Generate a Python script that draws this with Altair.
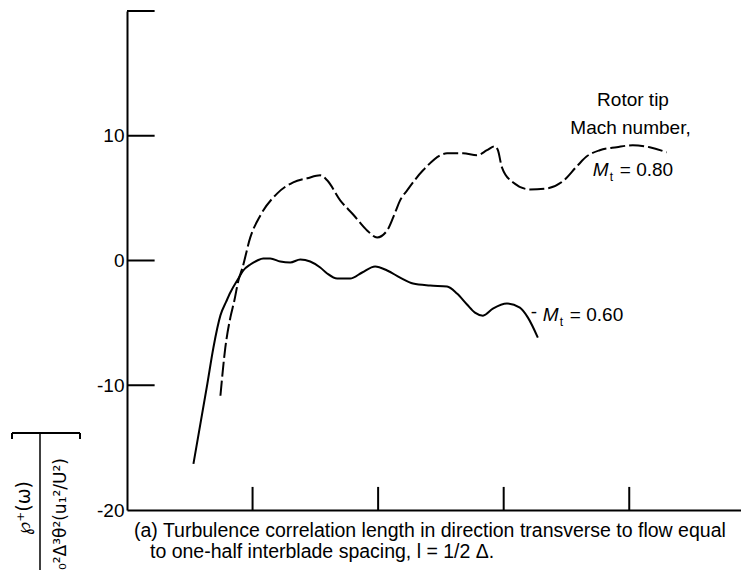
import altair as alt
import pandas as pd

# ---- data ----
# Rotor tip Mach number M_t = 0.60 (solid curve)
x_060 = [0.529, 0.640, 0.688, 0.744, 0.790, 0.823, 0.887, 0.926, 0.982, 1.038, 1.085,
         1.141, 1.221, 1.300, 1.380, 1.459, 1.539, 1.594, 1.674, 1.777, 1.873,
         1.976, 2.072, 2.175, 2.278, 2.414, 2.549, 2.628, 2.708, 2.771, 2.835,
         2.914, 3.026, 3.129, 3.193, 3.272]
y_060 = [-16.3, -9.88, -6.99, -4.40, -3.30, -2.57, -1.45, -0.80, -0.32, 0.0, 0.16,
         0.16, -0.08, -0.16, 0.08, -0.08, -0.56, -1.04, -1.45, -1.45, -0.96,
         -0.48, -0.80, -1.37, -1.85, -2.01, -2.09, -2.65, -3.53, -4.18, -4.42,
         -3.86, -3.45, -3.78, -4.58, -6.18]

# Rotor tip Mach number M_t = 0.80 (dashed curve)
x_080 = [0.744, 0.783, 0.823, 0.855, 0.887, 0.918, 0.982, 1.062, 1.197, 1.324,
         1.435, 1.539, 1.594, 1.698, 1.801, 1.912, 1.992, 2.072, 2.136, 2.175,
         2.231, 2.358, 2.549, 2.676, 2.787, 2.867, 2.930, 2.954, 2.986, 3.073,
         3.209, 3.344, 3.471, 3.583, 3.662, 3.765, 3.900, 4.028, 4.163, 4.298]
y_080 = [-10.84, -6.99, -4.58, -3.21, -1.61, -0.64, 1.85, 3.61, 5.38, 6.27,
         6.59, 6.83, 6.43, 4.82, 3.69, 2.41, 1.85, 2.41, 3.86, 4.82,
         5.62, 7.23, 8.59, 8.59, 8.43, 8.84, 9.16, 8.84, 7.47, 6.27,
         5.70, 5.78, 6.35, 7.55, 8.35, 8.84, 9.08, 9.24, 9.08, 8.67]

y_tick_values = [-20, -10, 0, 10]
y_inner_ticks = [-10, 0, 10, 20]
x_inner_ticks = [1, 2, 3, 4]

X_DOMAIN = [0, 4.89]
Y_DOMAIN = [-20, 20]

FONT = "Liberation Sans Narrow, Liberation Sans, Arial, sans-serif"

xs = alt.Scale(domain=X_DOMAIN, nice=False, zero=False)
ys = alt.Scale(domain=Y_DOMAIN, nice=False, zero=False)

df060 = pd.DataFrame({"x": x_060, "y": y_060})
df080 = pd.DataFrame({"x": x_080, "y": y_080})

x_axis = alt.Axis(title=None, labels=False, ticks=False, grid=False,
                  domainColor="black", domainWidth=2)
y_axis = alt.Axis(title=None, values=y_tick_values, ticks=False, grid=False,
                  domainColor="black", domainWidth=2,
                  labelExpr="datum.value < 0 ? '-' + abs(datum.value) : '' + datum.value",
                  labelFont=FONT, labelFontSize=19, labelColor="black",
                  labelPadding=3)

solid = alt.Chart(df060).mark_line(color="black", strokeWidth=2,
                                   interpolate="monotone").encode(
    x=alt.X("x:Q", scale=xs, axis=x_axis),
    y=alt.Y("y:Q", scale=ys, axis=y_axis),
)

dashed = alt.Chart(df080).mark_line(color="black", strokeWidth=2,
                                    interpolate="monotone",
                                    strokeDash=[15, 4]).encode(
    x=alt.X("x:Q", scale=xs),
    y=alt.Y("y:Q", scale=ys),
)

# inward ticks
ytk = pd.DataFrame({"y": y_inner_ticks, "x": [0] * 4, "x2": [0.22] * 4})
ytick_layer = alt.Chart(ytk).mark_rule(color="black", strokeWidth=2).encode(
    x=alt.X("x:Q", scale=xs), x2="x2:Q", y=alt.Y("y:Q", scale=ys))

xtk = pd.DataFrame({"x": x_inner_ticks, "y": [-20] * 4, "y2": [-18.15] * 4})
xtick_layer = alt.Chart(xtk).mark_rule(color="black", strokeWidth=2).encode(
    x=alt.X("x:Q", scale=xs), y=alt.Y("y:Q", scale=ys), y2="y2:Q")

# annotations in data coordinates
ann_center = pd.DataFrame({"x": [4.03, 4.01], "y": [12.37, 10.12],
                           "t": ["Rotor tip", "Mach number,"]})
ann_c_layer = alt.Chart(ann_center).mark_text(
    font=FONT, fontSize=19, color="black", align="center", baseline="alphabetic"
).encode(x=alt.X("x:Q", scale=xs), y=alt.Y("y:Q", scale=ys), text="t:N")

def mt_label(x, y, value, lead=False):
    d = pd.DataFrame({"x": [x], "y": [y]})
    base = alt.Chart(d)
    enc = dict(x=alt.X("x:Q", scale=xs), y=alt.Y("y:Q", scale=ys))
    layers = [
        base.mark_text(font=FONT, fontSize=19, fontStyle="italic", color="black",
                       align="left", baseline="alphabetic", text="M").encode(**enc),
        base.mark_text(font=FONT, fontSize=12, color="black", align="left",
                       baseline="alphabetic", dx=17, dy=5, text="t").encode(**enc),
        base.mark_text(font=FONT, fontSize=19, color="black", align="left",
                       baseline="alphabetic", dx=27, text="= " + value).encode(**enc),
    ]
    if lead:
        layers.append(base.mark_text(font=FONT, fontSize=19, color="black",
                                     align="left", baseline="alphabetic",
                                     dx=-12, dy=-3, text="-").encode(**enc))
    return layers

lab080 = mt_label(3.71, 6.75, "0.80")
lab060 = mt_label(3.312, -4.82, "0.60", lead=True)

# y-axis title (rotated fraction) and caption, placed in pixels
num = alt.Chart(pd.DataFrame({"t": ["\u2118\u207a(\u03c9)"]})).mark_text(
    font="DejaVu Sans", fontSize=19, color="black", angle=270,
    align="center", baseline="middle").encode(
    x=alt.value(-103), y=alt.value(497), text="t:N")
den = alt.Chart(pd.DataFrame({"t": ["\u03c1\u2080c\u2080\u00b2\u0394\u00b3\u03b8\u00b2(u\u2081\u00b2/U\u00b2)"]})).mark_text(
    font="DejaVu Sans", fontSize=17, color="black", angle=270,
    align="left", baseline="middle").encode(
    x=alt.value(-66), y=alt.value(586), text="t:N")
frac = alt.Chart(pd.DataFrame({"a": [0]})).mark_rule(color="black", strokeWidth=1.5).encode(
    x=alt.value(-87), y=alt.value(422), y2=alt.value(570))
bracket = alt.Chart(pd.DataFrame({"a": [0]})).mark_rule(color="black", strokeWidth=2).encode(
    x=alt.value(-115), x2=alt.value(-47), y=alt.value(422))
bl = alt.Chart(pd.DataFrame({"a": [0]})).mark_rule(color="black", strokeWidth=2).encode(
    x=alt.value(-115), y=alt.value(422), y2=alt.value(428))
br = alt.Chart(pd.DataFrame({"a": [0]})).mark_rule(color="black", strokeWidth=2).encode(
    x=alt.value(-47), y=alt.value(422), y2=alt.value(428))

caption_lines = [
    "(a) Turbulence correlation length in direction transverse to flow equal",
    "to one-half interblade spacing, l = 1/2 \u0394.",
]
cap1 = alt.Chart(pd.DataFrame({"t": [caption_lines[0]]})).mark_text(
    font=FONT, fontSize=19.5, color="black", align="left", baseline="alphabetic").encode(
    x=alt.value(7), y=alt.value(526), text="t:N")
cap2 = alt.Chart(pd.DataFrame({"t": [caption_lines[1]]})).mark_text(
    font=FONT, fontSize=19.5, color="black", align="left", baseline="alphabetic").encode(
    x=alt.value(23), y=alt.value(547), text="t:N")

chart = alt.layer(
    solid, dashed, ytick_layer, xtick_layer, ann_c_layer,
    *lab080, *lab060, num, den, frac, bracket, bl, br, cap1, cap2
).properties(
    width=614, height=499,
    autosize=alt.AutoSizeParams(type="none"),
    padding={"left": 119, "top": 3, "right": 0, "bottom": 60},
    background="white",
).configure_view(stroke=None)

chart.save("out.html", embed_options={"renderer": "svg", "actions": False})
